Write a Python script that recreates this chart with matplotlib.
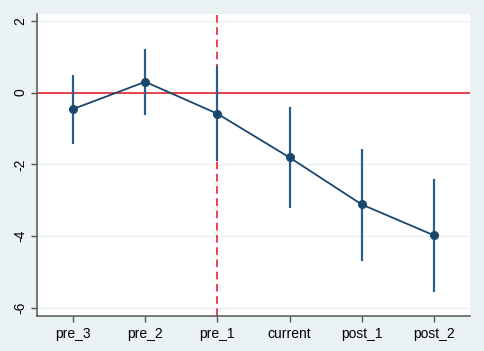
import matplotlib
matplotlib.use("Agg")
import matplotlib.pyplot as plt
import numpy as np

plt.rcParams["font.family"] = ["Liberation Sans", "DejaVu Sans"]

# Event-study estimates with 95% confidence bounds
periods = ["pre_3", "pre_2", "pre_1", "current", "post_1", "post_2"]
coef = [-0.46, 0.30, -0.59, -1.81, -3.12, -3.98]
ci_upper = [0.49, 1.22, 0.73, -0.40, -1.56, -2.40]
ci_lower = [-1.43, -0.63, -1.91, -3.22, -4.69, -5.56]
yticks = [-6, -4, -2, 0, 2]

navy = "#1a476f"
red = "#e2121f"
bg = "#eaf2f3"

fig = plt.figure(figsize=(4.84, 3.51), dpi=100, facecolor=bg)
ax = fig.add_axes([0.0764, 0.0997, 0.8946, 0.8604])
ax.set_facecolor("white")

x = np.arange(len(periods))

for yv in yticks:
    ax.axhline(yv, color=bg, lw=1.0, zorder=0)

ax.axhline(0, color=red, lw=1.1, zorder=1)
ax.axvline(2, color=red, lw=1.1, ls=(0, (5, 3)), zorder=1)

ax.vlines(x, ci_lower, ci_upper, color="#2c5d8a", lw=1.6, zorder=2)
ax.plot(x, coef, color=navy, lw=1.3, marker="o", ms=5.5, zorder=3)

ax.set_xlim(-0.5, 5.5)
ax.set_ylim(-6.23, 2.19)
ax.set_xticks(x)
ax.set_xticklabels(periods)
ax.set_yticks(yticks)
ax.set_yticklabels([str(v) for v in yticks], rotation=90, va="center")

for side in ["top", "right"]:
    ax.spines[side].set_visible(False)
for side in ["left", "bottom"]:
    ax.spines[side].set_color("#555555")
    ax.spines[side].set_linewidth(1.1)

ax.tick_params(axis="both", labelsize=10, color="#555555", length=4, width=1)
ax.tick_params(axis="y", pad=3)
ax.tick_params(axis="x", pad=4)

fig.savefig("out.png", dpi=100, facecolor=bg)
